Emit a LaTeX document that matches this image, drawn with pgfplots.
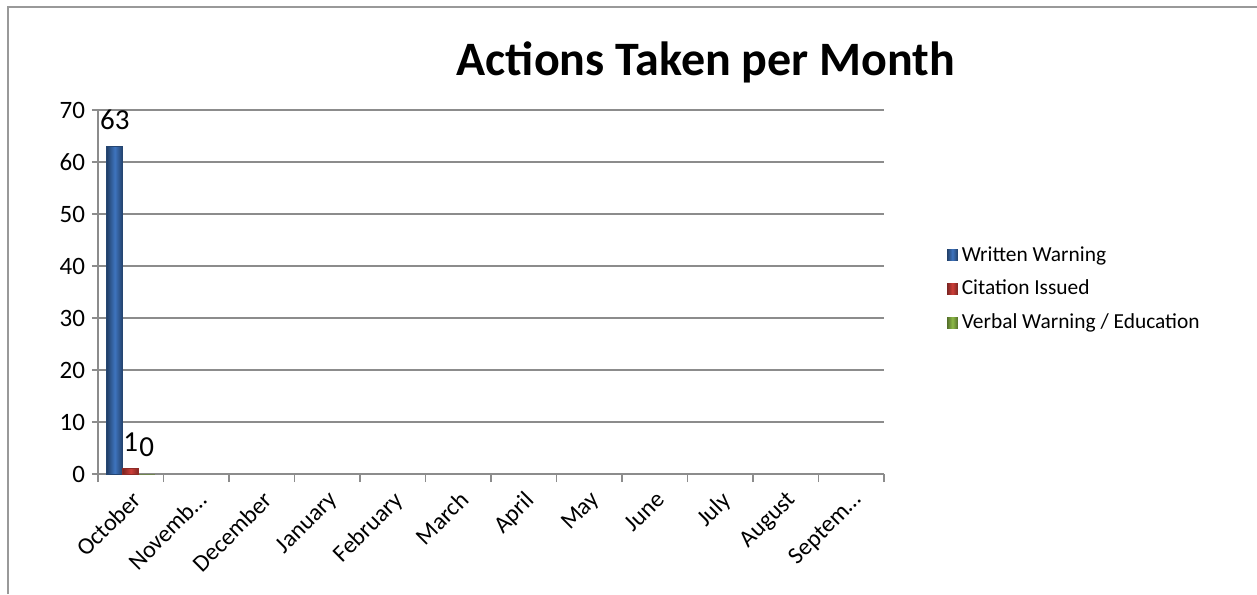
\documentclass[border=0pt]{standalone}
\usepackage{pgfplots}
\pgfplotsset{compat=1.18}
\usepackage{fontspec}
\setmainfont{Carlito}

\definecolor{wwblue}{RGB}{62,116,190}
\definecolor{cired}{RGB}{205,62,56}
\definecolor{vbgreen}{RGB}{140,185,70}
\definecolor{gridgray}{RGB}{140,140,140}

\begin{document}
\begin{tikzpicture}
\path[use as bounding box] (0,0) rectangle (628.5pt,297pt);
\draw[gray!80,line width=1pt] (4pt,0) -- (4pt,293.5pt) -- (628.5pt,293.5pt);

\node[font=\bfseries\fontsize{24}{28}\selectfont] at (353pt,266pt) {Actions Taken per Month};

\begin{axis}[
  at={(49pt,60pt)}, anchor=south west,
  scale only axis,
  width=393pt, height=182pt,
  ybar=0pt, bar width=8pt,
  xmin=-0.5, xmax=11.5,
  ymin=0, ymax=70,
  ytick={0,10,...,70},
  xtick={0,...,11},
  xticklabels={October,Novemb\ldots,December,January,February,March,April,May,June,July,August,Septem\ldots},
  x tick label style={rotate=45, anchor=north east, font=\fontsize{12}{14}\selectfont},
  y tick label style={font=\fontsize{12.5}{14}\selectfont},
  /pgf/number format/assume math mode=true,
  minor xtick={-0.5,0.5,...,11.5},
  major x tick style={draw=none},
  minor x tick style={gridgray, line width=0.6pt},
  minor tick length=4pt,
  major tick length=3pt,
  tick align=outside,
  y tick style={gridgray, line width=0.6pt},
  ymajorgrids,
  grid style={gridgray, line width=0.6pt},
  axis x line*=bottom, axis y line*=left,
  axis line style={gridgray, line width=0.6pt},
  nodes near coords,
  every node near coord/.append style={font=\fontsize{14.5}{16}\selectfont, black, yshift=5pt},
  legend style={at={(1.072,0.508)}, anchor=west, draw=none, fill=none,
    font=\fontsize{10.7}{12}\selectfont, row sep=4pt, legend cell align=left},
  legend image code/.code={\draw[#1, draw=none] (0pt,-2.7pt) rectangle (5.4pt,2.7pt);},
]
\addplot[left color=wwblue!55!black, right color=wwblue!55!black, middle color=wwblue, draw=wwblue!60!black] coordinates {(0,63)};
\addplot[left color=cired!60!black, right color=cired!60!black, middle color=cired, draw=cired!70!black] coordinates {(0,1)};
\addplot[left color=vbgreen!60!black, right color=vbgreen!60!black, middle color=vbgreen, draw=vbgreen!70!black] coordinates {(0,0)};
\legend{Written Warning, Citation Issued, Verbal Warning / Education}
\end{axis}
\end{tikzpicture}
\end{document}
